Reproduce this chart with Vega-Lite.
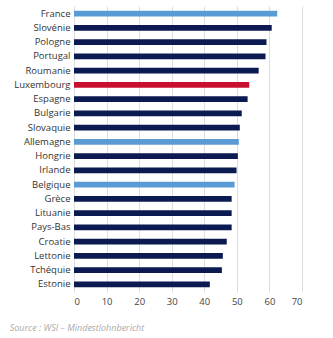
{
  "$schema": "https://vega.github.io/schema/vega-lite/v6.json",
  "width": 228,
  "height": 286,
  "autosize": {"type": "none"},
  "padding": {"left": 74, "top": 6, "right": 31, "bottom": 46},
  "config": {"view": {"stroke": null}, "font": "Open Sans"},
  "data": {
    "values": [
      {"pays": "France", "valeur": 62.4, "groupe": "ref"},
      {"pays": "Slovénie", "valeur": 60.7, "groupe": "autre"},
      {"pays": "Pologne", "valeur": 59.1, "groupe": "autre"},
      {"pays": "Portugal", "valeur": 58.8, "groupe": "autre"},
      {"pays": "Roumanie", "valeur": 56.7, "groupe": "autre"},
      {"pays": "Luxembourg", "valeur": 53.8, "groupe": "Luxembourg"},
      {"pays": "Espagne", "valeur": 53.3, "groupe": "autre"},
      {"pays": "Bulgarie", "valeur": 51.5, "groupe": "autre"},
      {"pays": "Slovaquie", "valeur": 50.9, "groupe": "autre"},
      {"pays": "Allemagne", "valeur": 50.6, "groupe": "ref"},
      {"pays": "Hongrie", "valeur": 50.3, "groupe": "autre"},
      {"pays": "Irlande", "valeur": 49.9, "groupe": "autre"},
      {"pays": "Belgique", "valeur": 49.3, "groupe": "ref"},
      {"pays": "Grèce", "valeur": 48.4, "groupe": "autre"},
      {"pays": "Lituanie", "valeur": 48.4, "groupe": "autre"},
      {"pays": "Pays-Bas", "valeur": 48.4, "groupe": "autre"},
      {"pays": "Croatie", "valeur": 46.9, "groupe": "autre"},
      {"pays": "Lettonie", "valeur": 45.7, "groupe": "autre"},
      {"pays": "Tchéquie", "valeur": 45.4, "groupe": "autre"},
      {"pays": "Estonie", "valeur": 41.7, "groupe": "autre"}
    ]
  },
  "mark": {"type": "bar"},
  "encoding": {
    "y": {
      "field": "pays",
      "type": "nominal",
      "sort": null,
      "scale": {"paddingInner": 0.6, "paddingOuter": 0.33},
      "axis": {
        "title": null,
        "ticks": false,
        "domain": false,
        "labelPadding": 4,
        "labelFontSize": 9.5,
        "labelColor": "#333333"
      }
    },
    "x": {
      "field": "valeur",
      "type": "quantitative",
      "scale": {"domain": [0, 70]},
      "axis": {
        "title": null,
        "values": [0, 10, 20, 30, 40, 50, 60, 70],
        "domain": false,
        "ticks": false,
        "gridColor": "#dddddd",
        "gridWidth": 1,
        "labelColor": "#444444",
        "labelFontSize": 9.5,
        "labelPadding": 4
      }
    },
    "color": {
      "field": "groupe",
      "type": "nominal",
      "scale": {
        "domain": ["autre", "Luxembourg", "ref"],
        "range": ["#0b1a50", "#c8102e", "#5b9bd5"]
      },
      "legend": null
    }
  },
  "title": {
    "text": "Source : WSI – Mindestlohnbericht",
    "orient": "bottom",
    "anchor": "start",
    "frame": "bounds",
    "offset": 18,
    "dx": -4,
    "fontSize": 9,
    "fontStyle": "italic",
    "fontWeight": "normal",
    "color": "#aaaaaa"
  }
}
